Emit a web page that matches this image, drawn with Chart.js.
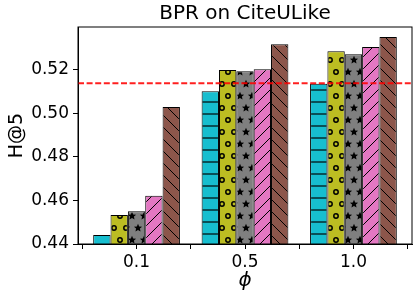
<!DOCTYPE html>
<html>
<head>
<meta charset="utf-8">
<script src="https://cdn.jsdelivr.net/npm/chart.js@4.4.1/dist/chart.umd.min.js"></script>
<style>
  body { margin: 0; background: #fff; }
  canvas { display: block; }
</style>
</head>
<body>
<canvas id="grafico" width="419" height="301"></canvas>
<script>
// valores
const phis = ['0.1', '0.5', '1.0']
const serieA = [0.4441, 0.5102, 0.5136]   // ciano, listras horizontais
const serieB = [0.4533, 0.5199, 0.5286]   // oliva, circulos
const serieC = [0.4551, 0.5194, 0.5272]   // cinza, estrelas
const serieD = [0.4622, 0.5203, 0.5305]   // rosa, "/"
const serieE = [0.5029, 0.5318, 0.5351]   // marrom, "\"
const linhaBase = 0.5139                  // linha vermelha tracejada
const yTicks = [0.44, 0.46, 0.48, 0.50, 0.52]
const yMin = 0.44, yMax = 0.5397
const xMin = -0.54, xMax = 2.54
const xTicks = [-0.5, 0, 0.5, 1, 1.5, 2, 2.5]

Chart.defaults.font.family = '"DejaVu Sans", sans-serif'
Chart.defaults.color = '#000'

// cria as hachuras no estilo do matplotlib
function hachura(fundo, tipo) {
    const c = document.createElement('canvas')
    c.width = 12
    c.height = (tipo === 'o' || tipo === '*') ? 24 : 12
    const g = c.getContext('2d')
    g.fillStyle = fundo
    g.fillRect(0, 0, c.width, c.height)
    g.strokeStyle = '#000'
    g.fillStyle = '#000'
    g.lineWidth = 1
    if (tipo === '-') {
        g.fillStyle = 'rgba(0,0,0,0.58)'
        g.fillRect(0, 5, 12, 2)
    } else if (tipo === '/' || tipo === '\\') {
        g.beginPath()
        for (const k of [-12, 0, 12]) {
            if (tipo === '/') { g.moveTo(k, 12); g.lineTo(k + 12, 0) }
            else { g.moveTo(k, 0); g.lineTo(k + 12, 12) }
        }
        g.stroke()
    } else {
        const pts = [[0, 0], [12, 0], [0, 24], [12, 24], [6, 12]]
        for (const [px, py] of pts) {
            g.beginPath()
            if (tipo === 'o') {
                g.lineWidth = 1.5
                g.arc(px, py, 2.2, 0, Math.PI * 2)
                g.stroke()
            } else {
                for (let i = 0; i < 10; i++) {
                    const r = i % 2 === 0 ? 4.3 : 2.0
                    const a = -Math.PI / 2 + i * Math.PI / 5
                    const sx = px + r * Math.cos(a), sy = py + r * Math.sin(a)
                    if (i === 0) g.moveTo(sx, sy); else g.lineTo(sx, sy)
                }
                g.closePath()
                g.fill()
            }
        }
    }
    return g.createPattern(c, 'repeat')
}

const series = [
    { nome: 'A', valores: serieA, cor: '#17becf', tipo: '-' },
    { nome: 'B', valores: serieB, cor: '#bcbd22', tipo: 'o' },
    { nome: 'C', valores: serieC, cor: '#7f7f7f', tipo: '*' },
    { nome: 'D', valores: serieD, cor: '#e377c2', tipo: '/' },
    { nome: 'E', valores: serieE, cor: '#8c564b', tipo: '\\' }
]

// os ticks de meio em meio fazem o Chart.js achar metade da largura da categoria,
// por isso 1.6 (= 0.8 x 2)
const datasets = series.map(s => ({
    type: 'bar',
    label: s.nome,
    data: s.valores.map((v, i) => ({ x: i, y: v })),
    backgroundColor: hachura(s.cor, s.tipo),
    borderColor: '#000',
    borderWidth: 1,
    borderSkipped: false,
    categoryPercentage: 1.6,
    barPercentage: 1.0
}))

datasets.push({
    type: 'line',
    label: 'base',
    data: [{ x: xMin, y: linhaBase }, { x: xMax, y: linhaBase }],
    borderColor: 'rgba(255,0,0,0.88)',
    borderWidth: 2,
    borderDash: [6, 2.6],
    pointRadius: 0,
    order: -1
})

// moldura completa em volta da area do grafico
const moldura = {
    id: 'moldura',
    afterDraw(chart) {
        const { ctx, chartArea: a } = chart
        ctx.save()
        ctx.strokeStyle = '#000'
        ctx.lineWidth = 1
        ctx.strokeRect(a.left, a.top, a.right - a.left, a.bottom - a.top)
        ctx.restore()
    }
}

new Chart(document.getElementById('grafico').getContext('2d'), {
    type: 'bar',
    data: { datasets },
    plugins: [moldura],
    options: {
        responsive: false,
        animation: false,
        layout: { padding: { left: 0, right: 7, top: 0, bottom: 0 } },
        plugins: {
            legend: { display: false },
            tooltip: { enabled: false },
            title: {
                display: true,
                text: 'BPR on CiteULike',
                fullSize: false,
                color: '#000',
                font: { size: 20, weight: 'normal' },
                padding: { top: 1.5, bottom: 1.5 }
            }
        },
        scales: {
            x: {
                type: 'linear',
                min: xMin,
                max: xMax,
                offset: false,
                afterBuildTicks: ax => { ax.ticks = xTicks.map(v => ({ value: v })) },
                afterFit: ax => { ax.height = 57 },
                grid: { offset: false, drawOnChartArea: false, color: '#000', tickLength: 5, tickWidth: 1 },
                border: { color: '#000', width: 1 },
                ticks: {
                    autoSkip: false,
                    maxRotation: 0,
                    padding: 3,
                    color: '#000',
                    font: { size: 17 },
                    callback: v => Number.isInteger(v) ? phis[v] : ''
                },
                title: {
                    display: true,
                    text: 'ϕ',
                    color: '#000',
                    font: { size: 20, style: 'italic' },
                    padding: { top: 0, bottom: 8 }
                }
            },
            y: {
                min: yMin,
                max: yMax,
                afterBuildTicks: ax => { ax.ticks = yTicks.map(v => ({ value: v })) },
                afterFit: ax => { ax.width = 78 },
                grid: { drawOnChartArea: false, color: '#000', tickLength: 5, tickWidth: 1 },
                border: { color: '#000', width: 1 },
                ticks: {
                    padding: 4,
                    color: '#000',
                    font: { size: 17 },
                    callback: v => v.toFixed(2)
                },
                title: {
                    display: true,
                    text: 'H@5',
                    color: '#000',
                    font: { size: 19 },
                    padding: { top: 6, bottom: 0 }
                }
            }
        }
    }
})
</script>
</body>
</html>
